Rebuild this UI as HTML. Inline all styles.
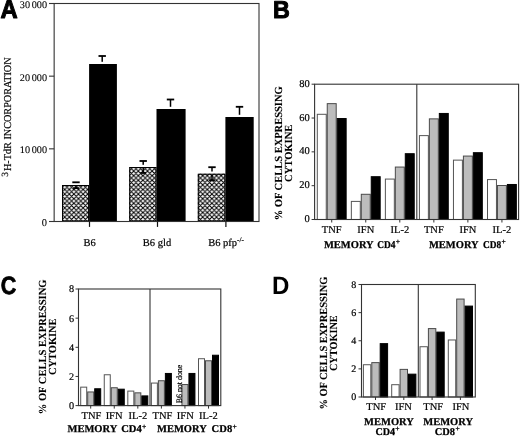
<!DOCTYPE html>
<html><head><meta charset="utf-8"><style>
html,body{margin:0;padding:0;background:#fff;}
svg{display:block;will-change:transform;}
text{text-rendering:geometricPrecision;}
text[font-weight="normal"]{stroke:#000;stroke-width:0.2px;}
text[font-weight="bold"][font-family="Liberation Serif"]{stroke:#000;stroke-width:0.25px;}
</style></head><body>
<svg width="520" height="436" viewBox="0 0 520 436" font-family="Liberation Serif">
<defs>
<pattern id="hatch" patternUnits="userSpaceOnUse" x="0.3" y="0.9" width="4.6" height="4.6">
<rect width="4.6" height="4.6" fill="#fff"/>
<path d="M-1,-1L5.6,5.6M-1,5.6L5.6,-1M-1,1L1,-1M3.6,5.6L5.6,3.6M3.6,-1L5.6,1M-1,3.6L1,5.6" stroke="#000" stroke-width="1.05" fill="none"/>
</pattern>
</defs>
<rect width="520" height="436" fill="#fff"/>
<text transform="translate(0.6,17.9) scale(0.93,1)" font-family="Liberation Sans" font-weight="bold" font-size="25.6" stroke="#000" stroke-width="1.0" stroke-linejoin="round">A</text>
<text transform="translate(272.9,18.1) scale(0.955,1)" font-family="Liberation Sans" font-weight="bold" font-size="24.4" stroke="#000" stroke-width="1.0" stroke-linejoin="round">B</text>
<text transform="translate(0.8,294.3) scale(0.86,1)" font-family="Liberation Sans" font-weight="bold" font-size="25.0" stroke="#000" stroke-width="0.8" stroke-linejoin="round">C</text>
<text transform="translate(271.9,293.6) scale(0.955,1)" font-family="Liberation Sans" font-weight="bold" font-size="25.2" stroke="#000" stroke-width="0.0" stroke-linejoin="round">D</text>
<rect x="62.00" y="185.00" width="27.10" height="36.50" fill="url(#hatch)"/>
<rect x="62.50" y="185.50" width="26.10" height="35.50" fill="none" stroke="#000" stroke-width="1"/>
<rect x="129.20" y="167.00" width="27.30" height="54.50" fill="url(#hatch)"/>
<rect x="129.70" y="167.50" width="26.30" height="53.50" fill="none" stroke="#000" stroke-width="1"/>
<rect x="197.80" y="173.70" width="27.60" height="47.80" fill="url(#hatch)"/>
<rect x="198.30" y="174.20" width="26.60" height="46.80" fill="none" stroke="#000" stroke-width="1"/>
<rect x="89.10" y="64.00" width="27.80" height="157.50" fill="#000"/>
<rect x="156.50" y="109.00" width="29.10" height="112.50" fill="#000"/>
<rect x="225.40" y="117.00" width="28.30" height="104.50" fill="#000"/>
<rect x="72.30" y="181.40" width="7.40" height="1.8" fill="#000"/>
<rect x="75.25" y="182.30" width="1.5" height="0.70" fill="#000"/>
<rect x="75.25" y="186.20" width="1.5" height="1.90" fill="#000"/>
<rect x="73.10" y="187.20" width="5.80" height="1.8" fill="#000"/>
<rect x="139.50" y="160.10" width="7.40" height="1.8" fill="#000"/>
<rect x="142.45" y="161.00" width="1.5" height="3.80" fill="#000"/>
<rect x="142.45" y="168.00" width="1.5" height="5.00" fill="#000"/>
<rect x="140.30" y="172.10" width="5.80" height="1.8" fill="#000"/>
<rect x="208.30" y="166.30" width="7.40" height="1.8" fill="#000"/>
<rect x="211.25" y="167.20" width="1.5" height="4.30" fill="#000"/>
<rect x="211.25" y="174.70" width="1.5" height="5.50" fill="#000"/>
<rect x="209.10" y="179.30" width="5.80" height="1.8" fill="#000"/>
<rect x="98.50" y="55.10" width="7.40" height="1.8" fill="#000"/>
<rect x="101.45" y="56.00" width="1.5" height="5.80" fill="#000"/>
<rect x="166.80" y="98.60" width="7.40" height="1.8" fill="#000"/>
<rect x="169.75" y="99.50" width="1.5" height="7.30" fill="#000"/>
<rect x="235.80" y="105.90" width="7.40" height="1.8" fill="#000"/>
<rect x="238.75" y="106.80" width="1.5" height="8.00" fill="#000"/>
<rect x="54.15" y="3.5" width="204.85" height="218.0" fill="none" stroke="#333" stroke-width="1.1"/>
<line x1="49" y1="221.5" x2="54.15" y2="221.5" stroke="#333" stroke-width="1.1"/>
<text x="47" y="225.5" font-family="Liberation Serif" font-size="10.4" text-anchor="end" font-weight="normal" style="stroke-width:0.1px">0</text>
<line x1="49" y1="148.83333333333331" x2="54.15" y2="148.83333333333331" stroke="#333" stroke-width="1.1"/>
<text x="47" y="152.83333333333331" font-family="Liberation Serif" font-size="10.2" text-anchor="end" font-weight="normal" style="stroke-width:0.1px">10<tspan dx="1.7">000</tspan></text>
<line x1="49" y1="76.16666666666666" x2="54.15" y2="76.16666666666666" stroke="#333" stroke-width="1.1"/>
<text x="47" y="80.96666666666665" font-family="Liberation Serif" font-size="10.2" text-anchor="end" font-weight="normal" style="stroke-width:0.1px">20<tspan dx="1.7">000</tspan></text>
<line x1="49" y1="3.5" x2="54.15" y2="3.5" stroke="#333" stroke-width="1.1"/>
<text x="47" y="7.5" font-family="Liberation Serif" font-size="10.2" text-anchor="end" font-weight="normal" style="stroke-width:0.1px">30<tspan dx="1.7">000</tspan></text>
<line x1="89.5" y1="221.5" x2="89.5" y2="226.9" stroke="#111" stroke-width="1.2"/>
<line x1="157.5" y1="221.5" x2="157.5" y2="226.9" stroke="#111" stroke-width="1.2"/>
<line x1="225.9" y1="221.5" x2="225.9" y2="226.9" stroke="#111" stroke-width="1.2"/>
<text x="89.6" y="245.8" font-family="Liberation Serif" font-size="10.5" text-anchor="middle" font-weight="normal" >B6</text>
<text x="157" y="245.8" font-family="Liberation Serif" font-size="10.5" text-anchor="middle" font-weight="normal" >B6 gld</text>
<text x="226" y="245.8" font-family="Liberation Serif" font-size="10.5" text-anchor="middle" font-weight="normal" >B6 pfp<tspan font-size="7.2" dy="-4">-/-</tspan></text>
<text transform="translate(10.8,171.0) rotate(-90)" font-family="Liberation Serif" font-weight="normal" font-size="10.6" text-anchor="start" textLength="113.6" lengthAdjust="spacingAndGlyphs">H-TdR INCORPORATION</text>
<text transform="translate(8.2,176.7) rotate(-90)" font-family="Liberation Serif" font-weight="normal" font-size="9.5" text-anchor="start">3</text>
<rect x="317.30" y="114.30" width="8.95" height="105.20" fill="#fff" stroke="#555" stroke-width="1"/>
<rect x="327.25" y="103.64" width="8.95" height="115.86" fill="#bcbcbc" stroke="#4a4a4a" stroke-width="1"/>
<rect x="337.20" y="118.52" width="8.95" height="100.98" fill="#000" stroke="#000" stroke-width="1"/>
<rect x="351.34" y="201.40" width="8.95" height="18.10" fill="#fff" stroke="#555" stroke-width="1"/>
<rect x="361.29" y="194.29" width="8.95" height="25.21" fill="#bcbcbc" stroke="#4a4a4a" stroke-width="1"/>
<rect x="371.24" y="176.70" width="8.95" height="42.80" fill="#000" stroke="#000" stroke-width="1"/>
<rect x="385.38" y="179.07" width="8.95" height="40.43" fill="#fff" stroke="#555" stroke-width="1"/>
<rect x="395.33" y="167.06" width="8.95" height="52.44" fill="#bcbcbc" stroke="#4a4a4a" stroke-width="1"/>
<rect x="405.28" y="153.70" width="8.95" height="65.80" fill="#000" stroke="#000" stroke-width="1"/>
<rect x="419.42" y="135.61" width="8.95" height="83.89" fill="#fff" stroke="#555" stroke-width="1"/>
<rect x="429.37" y="118.86" width="8.95" height="100.64" fill="#bcbcbc" stroke="#4a4a4a" stroke-width="1"/>
<rect x="439.32" y="113.45" width="8.95" height="106.05" fill="#000" stroke="#000" stroke-width="1"/>
<rect x="453.46" y="160.13" width="8.95" height="59.37" fill="#fff" stroke="#555" stroke-width="1"/>
<rect x="463.41" y="156.07" width="8.95" height="63.43" fill="#bcbcbc" stroke="#4a4a4a" stroke-width="1"/>
<rect x="473.36" y="152.69" width="8.95" height="66.81" fill="#000" stroke="#000" stroke-width="1"/>
<rect x="487.50" y="179.58" width="8.95" height="39.92" fill="#fff" stroke="#555" stroke-width="1"/>
<rect x="497.45" y="185.50" width="8.95" height="34.00" fill="#bcbcbc" stroke="#4a4a4a" stroke-width="1"/>
<rect x="507.40" y="184.48" width="8.95" height="35.02" fill="#000" stroke="#000" stroke-width="1"/>
<rect x="314.6" y="84.2" width="204.0" height="135.3" fill="none" stroke="#333" stroke-width="1.1"/>
<line x1="416.8" y1="84.2" x2="416.8" y2="219.5" stroke="#333" stroke-width="1.1"/>
<line x1="311.6" y1="219.5" x2="314.6" y2="219.5" stroke="#333" stroke-width="1"/>
<text x="309.8" y="222.0" font-family="Liberation Serif" font-size="10.5" text-anchor="end" font-weight="normal" >0</text>
<line x1="311.6" y1="185.675" x2="314.6" y2="185.675" stroke="#333" stroke-width="1"/>
<text x="309.8" y="188.175" font-family="Liberation Serif" font-size="10.5" text-anchor="end" font-weight="normal" >20</text>
<line x1="311.6" y1="151.85" x2="314.6" y2="151.85" stroke="#333" stroke-width="1"/>
<text x="309.8" y="154.35" font-family="Liberation Serif" font-size="10.5" text-anchor="end" font-weight="normal" >40</text>
<line x1="311.6" y1="118.02499999999999" x2="314.6" y2="118.02499999999999" stroke="#333" stroke-width="1"/>
<text x="309.8" y="120.52499999999999" font-family="Liberation Serif" font-size="10.5" text-anchor="end" font-weight="normal" >60</text>
<line x1="311.6" y1="84.19999999999999" x2="314.6" y2="84.19999999999999" stroke="#333" stroke-width="1"/>
<text x="309.8" y="86.69999999999999" font-family="Liberation Serif" font-size="10.5" text-anchor="end" font-weight="normal" >80</text>
<line x1="331.725" y1="219.5" x2="331.725" y2="222.5" stroke="#333" stroke-width="1"/>
<text x="331.725" y="232.6" font-family="Liberation Serif" font-size="10.5" text-anchor="middle" font-weight="normal" >TNF</text>
<line x1="365.76500000000004" y1="219.5" x2="365.76500000000004" y2="222.5" stroke="#333" stroke-width="1"/>
<text x="365.76500000000004" y="232.6" font-family="Liberation Serif" font-size="10.5" text-anchor="middle" font-weight="normal" >IFN</text>
<line x1="399.805" y1="219.5" x2="399.805" y2="222.5" stroke="#333" stroke-width="1"/>
<text x="399.805" y="232.6" font-family="Liberation Serif" font-size="10.5" text-anchor="middle" font-weight="normal" >IL-2</text>
<line x1="433.845" y1="219.5" x2="433.845" y2="222.5" stroke="#333" stroke-width="1"/>
<text x="433.845" y="232.6" font-family="Liberation Serif" font-size="10.5" text-anchor="middle" font-weight="normal" >TNF</text>
<line x1="467.88500000000005" y1="219.5" x2="467.88500000000005" y2="222.5" stroke="#333" stroke-width="1"/>
<text x="467.88500000000005" y="232.6" font-family="Liberation Serif" font-size="10.5" text-anchor="middle" font-weight="normal" >IFN</text>
<line x1="501.925" y1="219.5" x2="501.925" y2="222.5" stroke="#333" stroke-width="1"/>
<text x="501.925" y="232.6" font-family="Liberation Serif" font-size="10.5" text-anchor="middle" font-weight="normal" >IL-2</text>
<text x="323.9" y="247.9" font-family="Liberation Serif" font-size="10.5" text-anchor="start" font-weight="bold" >MEMORY</text>
<text x="377.3" y="247.9" font-family="Liberation Serif" font-size="10.5" text-anchor="start" font-weight="bold" textLength="18.2" lengthAdjust="spacingAndGlyphs" >CD4</text>
<text x="395.8" y="244.3" font-family="Liberation Serif" font-size="7.5" text-anchor="start" font-weight="bold" >+</text>
<text x="428.9" y="247.9" font-family="Liberation Serif" font-size="10.5" text-anchor="start" font-weight="bold" >MEMORY</text>
<text x="483.1" y="247.9" font-family="Liberation Serif" font-size="10.5" text-anchor="start" font-weight="bold" textLength="18.2" lengthAdjust="spacingAndGlyphs" >CD8</text>
<text x="501.6" y="244.3" font-family="Liberation Serif" font-size="7.5" text-anchor="start" font-weight="bold" >+</text>
<text transform="translate(281.6,153.3) rotate(-90)" x="0" y="0" font-family="Liberation Serif" font-size="10.8" text-anchor="middle" font-weight="bold" style="stroke-width:0.1px" textLength="134" lengthAdjust="spacingAndGlyphs">% OF CELLS EXPRESSING</text>
<text transform="translate(291.9,153.3) rotate(-90)" x="0" y="0" font-family="Liberation Serif" font-size="10.8" text-anchor="middle" font-weight="bold" style="stroke-width:0.1px" textLength="57.2" lengthAdjust="spacingAndGlyphs">CYTOKINE</text>
<rect x="80.70" y="387.15" width="6.00" height="18.45" fill="#fff" stroke="#555" stroke-width="1"/>
<rect x="87.70" y="391.96" width="6.00" height="13.64" fill="#bcbcbc" stroke="#4a4a4a" stroke-width="1"/>
<rect x="94.70" y="388.76" width="6.00" height="16.84" fill="#000" stroke="#000" stroke-width="1"/>
<rect x="104.26" y="374.76" width="6.00" height="30.84" fill="#fff" stroke="#555" stroke-width="1"/>
<rect x="111.26" y="387.74" width="6.00" height="17.86" fill="#bcbcbc" stroke="#4a4a4a" stroke-width="1"/>
<rect x="118.26" y="389.19" width="6.00" height="16.41" fill="#000" stroke="#000" stroke-width="1"/>
<rect x="127.82" y="391.09" width="6.00" height="14.51" fill="#fff" stroke="#555" stroke-width="1"/>
<rect x="134.82" y="392.84" width="6.00" height="12.76" fill="#bcbcbc" stroke="#4a4a4a" stroke-width="1"/>
<rect x="141.82" y="395.90" width="6.00" height="9.70" fill="#000" stroke="#000" stroke-width="1"/>
<rect x="151.38" y="383.07" width="6.00" height="22.53" fill="#fff" stroke="#555" stroke-width="1"/>
<rect x="158.38" y="380.74" width="6.00" height="24.86" fill="#bcbcbc" stroke="#4a4a4a" stroke-width="1"/>
<rect x="165.38" y="373.45" width="6.00" height="32.15" fill="#000" stroke="#000" stroke-width="1"/>
<rect x="181.94" y="384.53" width="6.00" height="21.07" fill="#bcbcbc" stroke="#4a4a4a" stroke-width="1"/>
<rect x="188.94" y="373.45" width="6.00" height="32.15" fill="#000" stroke="#000" stroke-width="1"/>
<rect x="198.50" y="358.73" width="6.00" height="46.87" fill="#fff" stroke="#555" stroke-width="1"/>
<rect x="205.50" y="360.77" width="6.00" height="44.83" fill="#bcbcbc" stroke="#4a4a4a" stroke-width="1"/>
<rect x="212.50" y="355.23" width="6.00" height="50.37" fill="#000" stroke="#000" stroke-width="1"/>
<rect x="78.5" y="289" width="142.3" height="116.60000000000002" fill="none" stroke="#333" stroke-width="1.1"/>
<line x1="150.0" y1="289" x2="150.0" y2="405.6" stroke="#333" stroke-width="1.1"/>
<line x1="75.5" y1="405.6" x2="78.5" y2="405.6" stroke="#333" stroke-width="1"/>
<text x="74.2" y="409.0" font-family="Liberation Serif" font-size="10.2" text-anchor="end" font-weight="normal" >0</text>
<line x1="75.5" y1="376.45000000000005" x2="78.5" y2="376.45000000000005" stroke="#333" stroke-width="1"/>
<text x="74.2" y="379.85" font-family="Liberation Serif" font-size="10.2" text-anchor="end" font-weight="normal" >2</text>
<line x1="75.5" y1="347.3" x2="78.5" y2="347.3" stroke="#333" stroke-width="1"/>
<text x="74.2" y="350.7" font-family="Liberation Serif" font-size="10.2" text-anchor="end" font-weight="normal" >4</text>
<line x1="75.5" y1="318.15" x2="78.5" y2="318.15" stroke="#333" stroke-width="1"/>
<text x="74.2" y="321.54999999999995" font-family="Liberation Serif" font-size="10.2" text-anchor="end" font-weight="normal" >6</text>
<line x1="75.5" y1="289.0" x2="78.5" y2="289.0" stroke="#333" stroke-width="1"/>
<text x="74.2" y="292.4" font-family="Liberation Serif" font-size="10.2" text-anchor="end" font-weight="normal" >8</text>
<line x1="90.7" y1="405.6" x2="90.7" y2="408.6" stroke="#333" stroke-width="1"/>
<text x="91.4" y="418.7" font-family="Liberation Serif" font-size="10.5" text-anchor="middle" font-weight="normal" >TNF</text>
<line x1="114.26" y1="405.6" x2="114.26" y2="408.6" stroke="#333" stroke-width="1"/>
<text x="114.1" y="418.7" font-family="Liberation Serif" font-size="10.5" text-anchor="middle" font-weight="normal" >IFN</text>
<line x1="137.82" y1="405.6" x2="137.82" y2="408.6" stroke="#333" stroke-width="1"/>
<text x="137.9" y="418.7" font-family="Liberation Serif" font-size="10.5" text-anchor="middle" font-weight="normal" >IL-2</text>
<line x1="161.38" y1="405.6" x2="161.38" y2="408.6" stroke="#333" stroke-width="1"/>
<text x="162.4" y="418.7" font-family="Liberation Serif" font-size="10.5" text-anchor="middle" font-weight="normal" >TNF</text>
<line x1="184.94" y1="405.6" x2="184.94" y2="408.6" stroke="#333" stroke-width="1"/>
<text x="185.3" y="418.7" font-family="Liberation Serif" font-size="10.5" text-anchor="middle" font-weight="normal" >IFN</text>
<line x1="208.5" y1="405.6" x2="208.5" y2="408.6" stroke="#333" stroke-width="1"/>
<text x="208.4" y="418.7" font-family="Liberation Serif" font-size="10.5" text-anchor="middle" font-weight="normal" >IL-2</text>
<text transform="translate(182.4,384) rotate(-90)" font-family="Liberation Serif" font-weight="normal" font-size="8.3" text-anchor="middle" textLength="38.5" lengthAdjust="spacingAndGlyphs">B6 not done</text>
<text x="67.5" y="432.4" font-family="Liberation Serif" font-size="10.5" text-anchor="start" font-weight="bold" >MEMORY</text>
<text x="121.2" y="432.4" font-family="Liberation Serif" font-size="10.5" text-anchor="start" font-weight="bold" textLength="20.6" lengthAdjust="spacingAndGlyphs" >CD4</text>
<text x="142.10000000000002" y="428.79999999999995" font-family="Liberation Serif" font-size="7.5" text-anchor="start" font-weight="bold" >+</text>
<text x="157.0" y="432.4" font-family="Liberation Serif" font-size="10.5" text-anchor="start" font-weight="bold" >MEMORY</text>
<text x="211.6" y="432.4" font-family="Liberation Serif" font-size="10.5" text-anchor="start" font-weight="bold" textLength="20.6" lengthAdjust="spacingAndGlyphs" >CD8</text>
<text x="232.5" y="428.79999999999995" font-family="Liberation Serif" font-size="7.5" text-anchor="start" font-weight="bold" >+</text>
<text transform="translate(45.5,346.9) rotate(-90)" x="0" y="0" font-family="Liberation Serif" font-size="10.8" text-anchor="middle" font-weight="bold" style="stroke-width:0.1px" textLength="134.8" lengthAdjust="spacingAndGlyphs">% OF CELLS EXPRESSING</text>
<text transform="translate(56.4,346.7) rotate(-90)" x="0" y="0" font-family="Liberation Serif" font-size="10.8" text-anchor="middle" font-weight="bold" style="stroke-width:0.1px" textLength="56.5" lengthAdjust="spacingAndGlyphs">CYTOKINE</text>
<rect x="363.40" y="364.73" width="7.40" height="32.27" fill="#fff" stroke="#555" stroke-width="1"/>
<rect x="371.80" y="362.62" width="7.40" height="34.38" fill="#bcbcbc" stroke="#4a4a4a" stroke-width="1"/>
<rect x="380.20" y="343.64" width="7.40" height="53.36" fill="#000" stroke="#000" stroke-width="1"/>
<rect x="391.70" y="384.70" width="7.40" height="12.30" fill="#fff" stroke="#555" stroke-width="1"/>
<rect x="400.10" y="369.38" width="7.40" height="27.62" fill="#bcbcbc" stroke="#4a4a4a" stroke-width="1"/>
<rect x="408.50" y="374.16" width="7.40" height="22.84" fill="#000" stroke="#000" stroke-width="1"/>
<rect x="420.00" y="346.73" width="7.40" height="50.27" fill="#fff" stroke="#555" stroke-width="1"/>
<rect x="428.40" y="328.59" width="7.40" height="68.41" fill="#bcbcbc" stroke="#4a4a4a" stroke-width="1"/>
<rect x="436.80" y="332.11" width="7.40" height="64.89" fill="#000" stroke="#000" stroke-width="1"/>
<rect x="448.30" y="339.98" width="7.40" height="57.02" fill="#fff" stroke="#555" stroke-width="1"/>
<rect x="456.70" y="299.06" width="7.40" height="97.94" fill="#bcbcbc" stroke="#4a4a4a" stroke-width="1"/>
<rect x="465.10" y="306.09" width="7.40" height="90.91" fill="#000" stroke="#000" stroke-width="1"/>
<rect x="361.5" y="284.5" width="113.80000000000001" height="112.5" fill="none" stroke="#333" stroke-width="1.1"/>
<line x1="418.3" y1="284.5" x2="418.3" y2="397" stroke="#333" stroke-width="1.1"/>
<line x1="358.5" y1="397.0" x2="361.5" y2="397.0" stroke="#333" stroke-width="1"/>
<text x="356.3" y="400.2" font-family="Liberation Serif" font-size="10.0" text-anchor="end" font-weight="normal" >0</text>
<line x1="358.5" y1="368.875" x2="361.5" y2="368.875" stroke="#333" stroke-width="1"/>
<text x="356.3" y="372.075" font-family="Liberation Serif" font-size="10.0" text-anchor="end" font-weight="normal" >2</text>
<line x1="358.5" y1="340.75" x2="361.5" y2="340.75" stroke="#333" stroke-width="1"/>
<text x="356.3" y="343.95" font-family="Liberation Serif" font-size="10.0" text-anchor="end" font-weight="normal" >4</text>
<line x1="358.5" y1="312.625" x2="361.5" y2="312.625" stroke="#333" stroke-width="1"/>
<text x="356.3" y="315.825" font-family="Liberation Serif" font-size="10.0" text-anchor="end" font-weight="normal" >6</text>
<line x1="358.5" y1="284.5" x2="361.5" y2="284.5" stroke="#333" stroke-width="1"/>
<text x="356.3" y="287.7" font-family="Liberation Serif" font-size="10.0" text-anchor="end" font-weight="normal" >8</text>
<line x1="375.5" y1="397" x2="375.5" y2="400" stroke="#333" stroke-width="1"/>
<text x="376.2" y="409.9" font-family="Liberation Serif" font-size="10.5" text-anchor="middle" font-weight="normal" >TNF</text>
<line x1="403.8" y1="397" x2="403.8" y2="400" stroke="#333" stroke-width="1"/>
<text x="403.5" y="409.9" font-family="Liberation Serif" font-size="10.5" text-anchor="middle" font-weight="normal" >IFN</text>
<line x1="432.1" y1="397" x2="432.1" y2="400" stroke="#333" stroke-width="1"/>
<text x="433.2" y="409.9" font-family="Liberation Serif" font-size="10.5" text-anchor="middle" font-weight="normal" >TNF</text>
<line x1="460.4" y1="397" x2="460.4" y2="400" stroke="#333" stroke-width="1"/>
<text x="461.0" y="409.9" font-family="Liberation Serif" font-size="10.5" text-anchor="middle" font-weight="normal" >IFN</text>
<text x="364.1" y="425.0" font-family="Liberation Serif" font-size="10.5" text-anchor="start" font-weight="bold" >MEMORY</text>
<text x="375.4" y="434.6" font-family="Liberation Serif" font-size="10.5" text-anchor="start" font-weight="bold" textLength="19.6" lengthAdjust="spacingAndGlyphs" >CD4</text>
<text x="395.3" y="431.0" font-family="Liberation Serif" font-size="7.5" text-anchor="start" font-weight="bold" >+</text>
<text x="423.3" y="425.0" font-family="Liberation Serif" font-size="10.5" text-anchor="start" font-weight="bold" >MEMORY</text>
<text x="434.8" y="434.6" font-family="Liberation Serif" font-size="10.5" text-anchor="start" font-weight="bold" textLength="20.3" lengthAdjust="spacingAndGlyphs" >CD8</text>
<text x="455.40000000000003" y="431.0" font-family="Liberation Serif" font-size="7.5" text-anchor="start" font-weight="bold" >+</text>
<text transform="translate(326.6,343.1) rotate(-90)" x="0" y="0" font-family="Liberation Serif" font-size="10.8" text-anchor="middle" font-weight="bold" style="stroke-width:0.1px" textLength="133" lengthAdjust="spacingAndGlyphs">% OF CELLS EXPRESSING</text>
<text transform="translate(337.0,343.2) rotate(-90)" x="0" y="0" font-family="Liberation Serif" font-size="10.8" text-anchor="middle" font-weight="bold" style="stroke-width:0.1px" textLength="55.7" lengthAdjust="spacingAndGlyphs">CYTOKINE</text>
</svg>
</body></html>
